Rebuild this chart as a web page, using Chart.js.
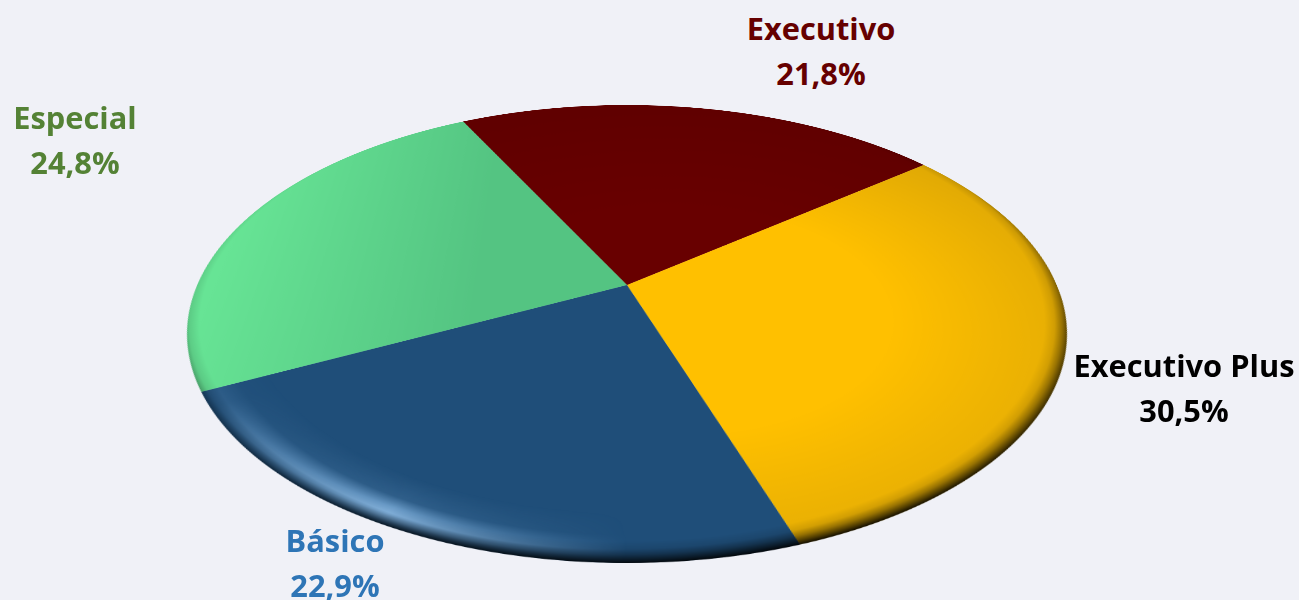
<!DOCTYPE html>
<html><head><meta charset="utf-8">
<script src="https://cdn.jsdelivr.net/npm/chart.js@4"></script>
<style>
html,body{margin:0;padding:0;width:1299px;height:600px;overflow:hidden;background:#f0f1f7}
#c{position:absolute;left:0;top:0;transform-origin:0 0}
.l{position:absolute;font:bold 30.8px "Open Sans",sans-serif;text-align:center;line-height:45px;white-space:nowrap;transform:translateX(-50%)}
</style></head><body>
<canvas id="c" width="1000" height="1000"></canvas>
<script>
const categories=['Executivo','Executivo Plus','Básico','Especial'];
const values=[21.8,30.5,22.9,24.8];
const tickLabels=['21,8%','30,5%','22,9%','24,8%'];
const innerColors=['#680000','#ffc000','#1f4e79','#54c482'];
const outerColors=['#600000','#d9a406','#1f4e79','#67e495'];
const textColors=['#660000','#000000','#2e75b6','#548235'];
const labelCentres=[[821,51],[1184,388],[335,563],[75,140]];
const startAngle=-27;
const CX=627,CY=285,A=429.8,B=218.5,K=0.214;
function shade(ctx){
  const i=ctx.dataIndex,c=ctx.chart,w=c.width,x=w/2,y=c.height/2,R=w/2;
  let g;
  if(i===3){g=c.ctx.createLinearGradient(w*0.33,0,w*0.02,0);}
  else{g=c.ctx.createRadialGradient(x+R*0.1,y+R*0.1,R*0.5,x+R*0.1,y+R*0.1,R*1.1);}
  g.addColorStop(0,innerColors[i]);g.addColorStop(1,outerColors[i]);
  return g;
}
const bevel={id:'bevel',afterDatasetsDraw(c){
  const a=c.getDatasetMeta(0).data[2];
  const x=a.x,y=a.y,R=a.outerRadius,g=c.ctx;
  const off=document.createElement('canvas');off.width=c.canvas.width;off.height=c.canvas.height;
  const o=off.getContext('2d');o.scale(2,2);
  const ring=o.createRadialGradient(x,y,R*0.85,x,y,R);
  ring.addColorStop(0,'rgba(150,200,245,0)');
  ring.addColorStop(0.45,'rgba(150,200,245,0.14)');
  ring.addColorStop(0.76,'rgba(150,200,245,0.9)');
  ring.addColorStop(0.86,'rgba(150,200,245,0.65)');
  ring.addColorStop(1,'rgba(150,200,245,0)');
  o.fillStyle=ring;o.fillRect(0,0,c.width,c.height);
  o.globalCompositeOperation='destination-in';
  const mask=o.createConicGradient(0,x,y);
  mask.addColorStop(0,'rgba(0,0,0,0)');
  mask.addColorStop(90/360,'rgba(0,0,0,0)');
  mask.addColorStop(118/360,'rgba(0,0,0,1)');
  mask.addColorStop(150/360,'rgba(0,0,0,0.15)');
  mask.addColorStop(175/360,'rgba(0,0,0,0)');
  mask.addColorStop(1,'rgba(0,0,0,0)');
  o.fillStyle=mask;o.fillRect(0,0,c.width,c.height);
  g.save();
  g.beginPath();g.arc(x,y,R,a.startAngle,a.endAngle);g.lineTo(x,y);g.closePath();g.clip();
  g.drawImage(off,0,0,c.width,c.height);
  g.restore();
  g.save();
  g.beginPath();g.arc(x,y,R,0,2*Math.PI);g.clip();
  const d=0.032*R,ox=x-0.35*d,oy=y-0.94*d;
  const r=g.createRadialGradient(ox,oy,R-d,ox,oy,R+d);
  r.addColorStop(0,'rgba(0,0,0,0)');
  r.addColorStop(0.35,'rgba(0,0,0,0.1)');
  r.addColorStop(0.6,'rgba(0,0,0,0.35)');
  r.addColorStop(0.82,'rgba(0,0,0,0.65)');
  r.addColorStop(1,'rgba(0,0,0,0.92)');
  g.fillStyle=r;g.fillRect(x-R,y-R,2*R,2*R);
  g.restore();
}};
const chart=new Chart(document.getElementById('c'),{
  type:'pie',
  data:{labels:categories,datasets:[{data:values,backgroundColor:shade,borderWidth:0}]},
  options:{responsive:false,animation:false,devicePixelRatio:2,rotation:startAngle,
    layout:{padding:0},plugins:{legend:{display:false},tooltip:{enabled:false}}},
  plugins:[bevel]
});
const arc=chart.getDatasetMeta(0).data[0];
const R=arc.outerRadius,px=arc.x,py=arc.y,w0=1+K*py/R;
const m=[A/R,0,0,0,
  -CX*K/R,-CY*K/R+B/R,0,-K/R,
  0,0,1,0,
  CX*w0-A*px/R,CY*w0-B*py/R,0,w0];
document.getElementById('c').style.transform='matrix3d('+m.join(',')+')';
categories.forEach((n,i)=>{
  const d=document.createElement('div');
  d.className='l';d.style.color=textColors[i];
  d.style.left=labelCentres[i][0]+'px';d.style.top=(labelCentres[i][1]-45)+'px';
  d.innerHTML=n+'<br>'+tickLabels[i];
  document.body.appendChild(d);
});
</script></body></html>
